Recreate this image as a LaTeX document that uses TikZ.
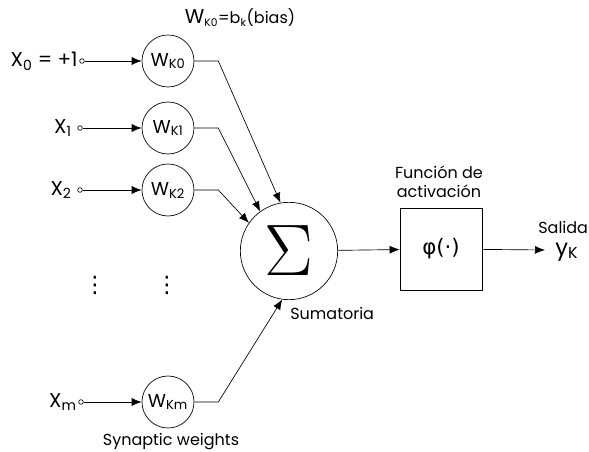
\documentclass[tikz,border=0pt]{standalone}
\usepackage{fontspec}
\setmainfont{Poppins}
\newfontfamily\symfont{DejaVu Sans}
\usetikzlibrary{arrows.meta}

\tikzset{
  weight/.style={draw,circle,minimum size=39pt,inner sep=0pt,font=\fontsize{14}{14}\selectfont},
  inlet/.style={draw,circle,inner sep=0pt,minimum size=3.5pt},
  xlabel/.style={anchor=east,inner sep=1pt,font=\fontsize{15}{15}\selectfont},
  txt/.style={font=\fontsize{12}{14}\selectfont,align=center,inner sep=0pt},
  vdotsnode/.style={inner sep=0pt,font=\symfont\fontsize{17}{17}\selectfont},
  arr/.style={-{Latex[length=7.5pt,width=6pt]}},
}

\begin{document}
\begin{tikzpicture}[x=0.75pt,y=-0.75pt,line width=.5pt]
\useasboundingbox (0,0) rectangle (589,452);
% inputs
\node[inlet] (in0) at (82,61) {};
\node[inlet] (in1) at (80,128) {};
\node[inlet] (in2) at (80,190) {};
\node[inlet] (inm) at (81,402) {};
\node[xlabel] (lx0) at (in0.west) {X\textsubscript{0} = +1};
\node[xlabel] (lx1) at ([xshift=-3pt]in1.west) {X\textsubscript{1}};
\node[xlabel] (lx2) at ([xshift=-3pt]in2.west) {X\textsubscript{2}};
\node[xlabel] (lxm) at (inm.west) {X\textsubscript{m}};
% synaptic weights
\node[weight] (w0) at (168,61) {W\textsubscript{K0}};
\node[weight] (w1) at (168,128) {W\textsubscript{K1}};
\node[weight] (w2) at (168,190) {W\textsubscript{K2}};
\node[weight] (wm) at (168,402) {W\textsubscript{Km}};
\node[txt] (bias) at (240,18) {{\fontsize{15}{15}\selectfont W}\textsubscript{K0}=b\textsubscript{k}(bias)};
\node[txt] (syn) at (171,442) {Synaptic weights};
\node[vdotsnode] (dots1) at (95,285) {⋮};
\node[vdotsnode] (dots2) at (167,285) {⋮};
% summing junction and activation
\node[draw,circle,minimum size=73pt,inner sep=0pt] (sum) at (289,251) {\scalebox{2.2}{\Huge$\Sigma$}};
\node[txt,anchor=north west] (sumlbl) at (290,307) {Sumatoria};
\node[draw,minimum width=61.5pt,minimum height=61.5pt,inner sep=0pt,font=\symfont\fontsize{16}{16}\selectfont] (act) at (441,249) {φ(·)};
\node[txt] (actlbl) at (439,182) {Función de\\activación};
\coordinate (out) at (545,250);
\node[txt,anchor=west] (salida) at (538,227) {Salida};
\node[anchor=west,inner sep=0pt,font=\fontsize{17}{17}\selectfont] (y) at (555,252) {y\textsubscript{K}};
% connectors
\draw[arr] (in0) -- (w0);
\draw[arr] (in1) -- (w1);
\draw[arr] (in2) -- (w2);
\draw[arr] (inm) -- (wm);
\draw[arr] (w0.east) -- ++(24,0) -- (sum.100);
\draw[arr] (w1.east) -- ++(24,0) -- (sum.126);
\draw[arr] (w2.east) -- ++(24,0) -- (sum.145);
\draw[arr] (wm.east) -- ++(24,0) -- (sum.262);
\draw[arr] (sum) -- (act);
\draw[arr] (act) -- (out);
\end{tikzpicture}
\end{document}
